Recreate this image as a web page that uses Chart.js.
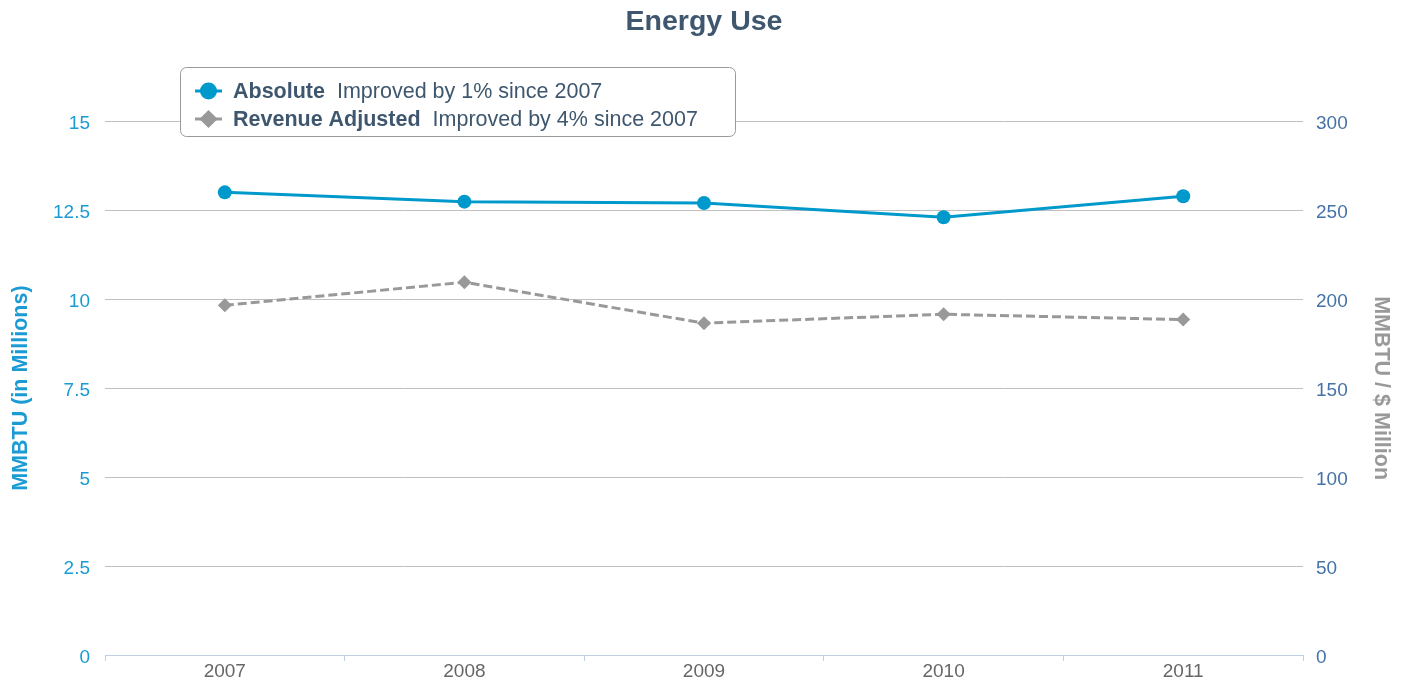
<!DOCTYPE html>
<html>
<head>
<meta charset="utf-8">
<script src="https://cdn.jsdelivr.net/npm/chart.js@4.4.1/dist/chart.umd.min.js"></script>
<style>
  html, body { margin: 0; padding: 0; background: #fff; }
  #wrap { width: 1408px; height: 684px; position: relative; }
</style>
</head>
<body>
<div id="wrap"><canvas id="chart"></canvas></div>
<script>
const years = ['2007', '2008', '2009', '2010', '2011'];
const absolute = [13.0, 12.74, 12.7, 12.3, 12.89];
const revenueAdjusted = [196.5, 209.5, 186.5, 191.5, 188.5];
const seriesNames = ['Absolute', 'Revenue Adjusted'];
const legendNotes = ['Improved by 1% since 2007', 'Improved by 4% since 2007'];
const leftTicks = [0, 2.5, 5, 7.5, 10, 12.5, 15];
const rightTicks = [0, 50, 100, 150, 200, 250, 300];

const FONT = 'Arial, "Liberation Sans", Helvetica, sans-serif';
const BLUE = '#0099cc';
const GREY = '#999999';
const TEXT = '#3e576f';

// floating legend box drawn over the plot, top-left
const floatLegend = {
  id: 'floatLegend',
  afterDraw(chart) {
    const ctx = chart.ctx;
    const x = 180, y = 67, w = 555, h = 69;
    ctx.save();
    ctx.fillStyle = '#fff';
    ctx.strokeStyle = '#999';
    ctx.lineWidth = 1;
    ctx.beginPath();
    ctx.roundRect(x + 0.5, y + 0.5, w, h, 6);
    ctx.fill();
    ctx.stroke();

    chart.data.datasets.forEach((ds, i) => {
      const cy = 91 + i * 28;
      ctx.strokeStyle = ds.borderColor;
      ctx.lineWidth = 3;
      ctx.setLineDash([]);
      ctx.beginPath();
      ctx.moveTo(195, cy);
      ctx.lineTo(222, cy);
      ctx.stroke();
      Chart.helpers.drawPoint(ctx, {
        pointStyle: ds.pointStyle,
        radius: ds.pointRadius,
        borderWidth: 1
      }, 208.5, cy);
      ctx.fillStyle = ds.borderColor;
      ctx.fill();

      ctx.textBaseline = 'middle';
      ctx.fillStyle = TEXT;
      ctx.font = 'bold 21.5px ' + FONT;
      ctx.fillText(seriesNames[i], 233, cy + 1);
      const bw = ctx.measureText(seriesNames[i]).width;
      ctx.font = '21.5px ' + FONT;
      ctx.fillText(legendNotes[i], 233 + bw + 12, cy + 1);
    });
    ctx.restore();
  }
};

new Chart(document.getElementById('chart'), {
  type: 'line',
  data: {
    labels: years,
    datasets: [
      {
        label: seriesNames[0],
        data: absolute,
        yAxisID: 'y',
        borderColor: BLUE,
        backgroundColor: BLUE,
        borderWidth: 3,
        pointStyle: 'circle',
        pointRadius: 7,
        pointBorderWidth: 0,
        tension: 0
      },
      {
        label: seriesNames[1],
        data: revenueAdjusted,
        yAxisID: 'y1',
        borderColor: GREY,
        backgroundColor: GREY,
        borderWidth: 3,
        borderDash: [9, 4],
        pointStyle: 'rectRot',
        pointRadius: 7,
        pointBorderWidth: 0,
        tension: 0
      }
    ]
  },
  options: {
    responsive: true,
    maintainAspectRatio: false,
    animation: false,
    events: [],
    layout: { padding: 0 },
    plugins: {
      legend: { display: false },
      tooltip: { enabled: false },
      title: {
        display: true,
        text: 'Energy Use',
        color: TEXT,
        font: { family: FONT, size: 28.5, weight: 'bold' },
        padding: { top: 5, bottom: 82 }
      }
    },
    scales: {
      x: {
        offset: true,
        grid: { offset: true, drawOnChartArea: false, drawTicks: true, tickLength: 6, color: '#c0d0e0' },
        border: { color: '#c0d0e0', width: 1 },
        ticks: { color: '#666', font: { family: FONT, size: 19 }, padding: -1 },
        afterFit(s) { s.height = 29; }
      },
      y: {
        position: 'left',
        min: 0,
        max: 15,
        afterBuildTicks(s) { s.ticks = leftTicks.map(v => ({ value: v })); },
        grid: { color: '#c0c0c0', drawTicks: false },
        border: { display: false },
        ticks: { color: '#1a9bd3', font: { family: FONT, size: 19 }, padding: 15, labelOffset: 3 },
        title: {
          display: true,
          text: 'MMBTU (in Millions)',
          color: '#1a9bd3',
          font: { family: FONT, size: 21.5, weight: 'bold' },
          padding: { top: 8, bottom: 0 }
        },
        afterFit(s) { s.width = 105; }
      },
      y1: {
        position: 'right',
        min: 0,
        max: 300,
        afterBuildTicks(s) { s.ticks = rightTicks.map(v => ({ value: v })); },
        grid: { drawOnChartArea: false, drawTicks: false },
        border: { display: false },
        ticks: { color: '#4572a7', font: { family: FONT, size: 19 }, padding: 13, labelOffset: 3 },
        title: {
          display: true,
          text: 'MMBTU / $ Million',
          color: GREY,
          font: { family: FONT, size: 21.5, weight: 'bold' },
          padding: { top: 14, bottom: 0 }
        },
        afterFit(s) { s.width = 105; }
      }
    }
  },
  plugins: [floatLegend]
});
</script>
</body>
</html>
